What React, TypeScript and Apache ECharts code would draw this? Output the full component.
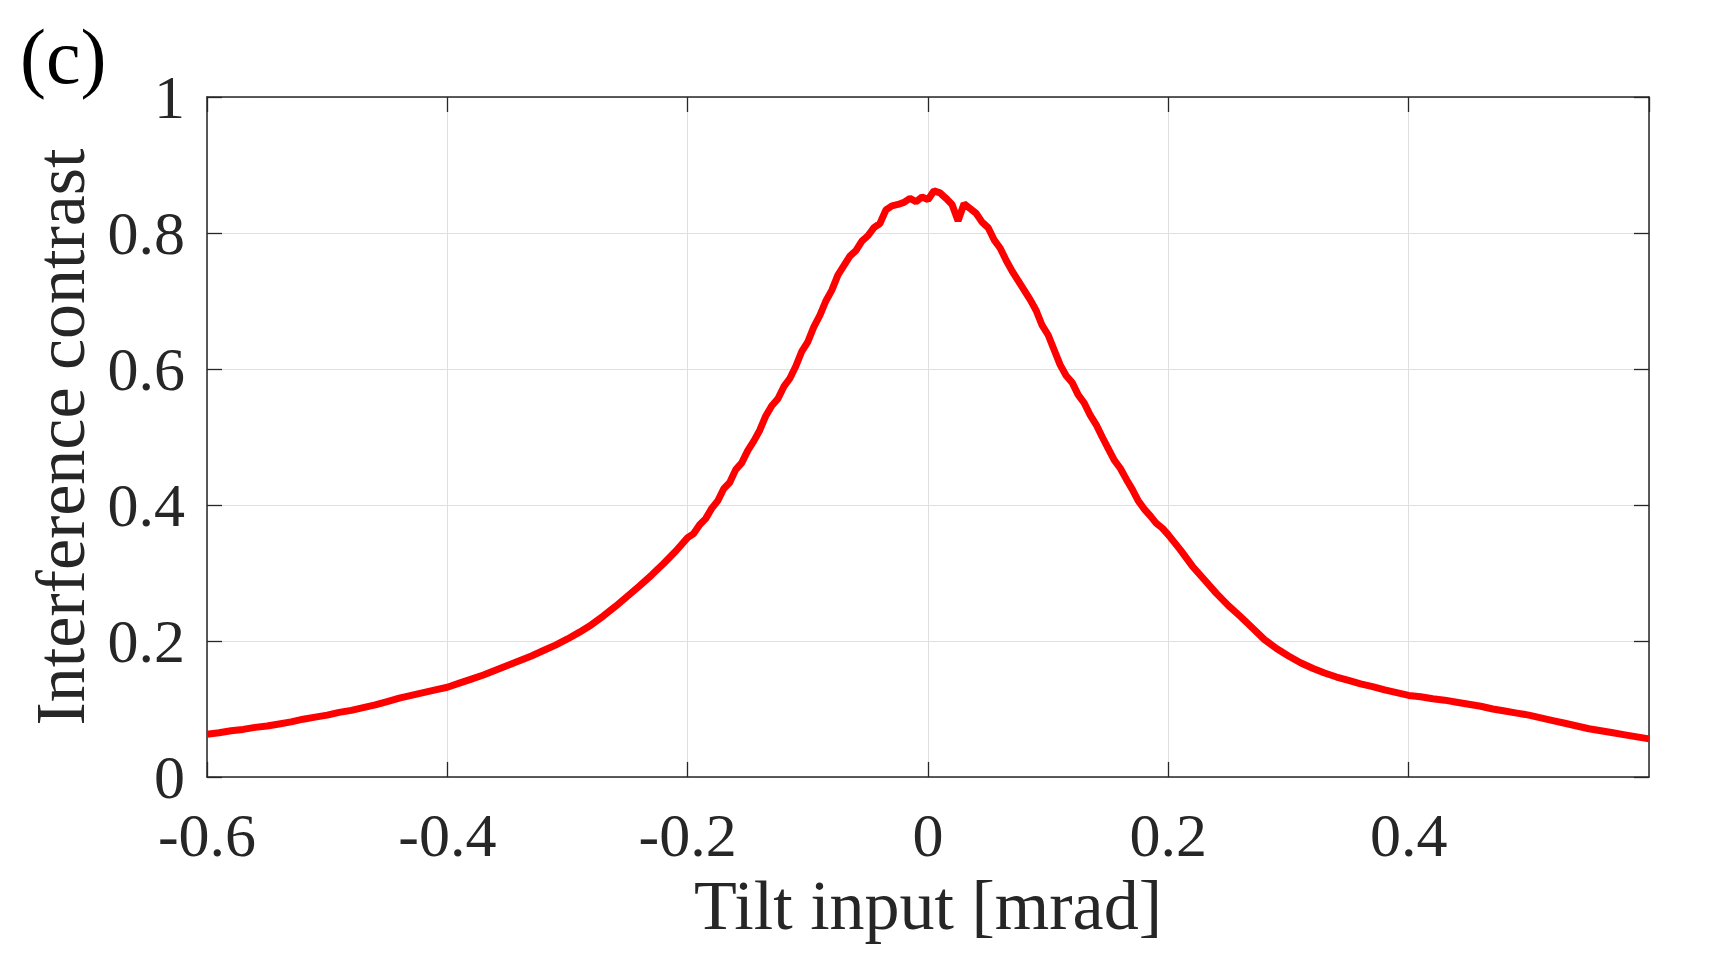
import React, { useEffect, useRef } from "react";
import * as echarts from "echarts";

const xTail1 = [-0.6, -0.59, -0.58, -0.57, -0.56, -0.55, -0.54, -0.53, -0.52, -0.51, -0.5, -0.49, -0.48, -0.47, -0.46, -0.45, -0.44, -0.43, -0.42, -0.41, -0.4, -0.39, -0.38, -0.37, -0.36, -0.35, -0.34, -0.33, -0.32, -0.31, -0.3, -0.29, -0.28, -0.27, -0.26, -0.25, -0.24, -0.23, -0.22, -0.21];
const yTail1 = [0.063, 0.065, 0.068, 0.07, 0.073, 0.075, 0.078, 0.081, 0.085, 0.088, 0.091, 0.095, 0.098, 0.102, 0.106, 0.111, 0.116, 0.12, 0.124, 0.128, 0.132, 0.138, 0.144, 0.15, 0.157, 0.164, 0.171, 0.178, 0.186, 0.194, 0.203, 0.213, 0.224, 0.237, 0.251, 0.266, 0.281, 0.297, 0.314, 0.332];

const xCenter = [-0.2, -0.195, -0.19, -0.185, -0.18, -0.175, -0.17, -0.165, -0.16, -0.155, -0.15, -0.145, -0.14, -0.135, -0.13, -0.125, -0.12, -0.115, -0.11, -0.105, -0.1, -0.095, -0.09, -0.085, -0.08, -0.075, -0.07, -0.065, -0.06, -0.055, -0.05, -0.045, -0.04, -0.035, -0.03, -0.025, -0.02, -0.015, -0.01, -0.005, 0, 0.005, 0.01, 0.015, 0.02, 0.025, 0.03, 0.035, 0.04, 0.045, 0.05, 0.055, 0.06, 0.065, 0.07, 0.075, 0.08, 0.085, 0.09, 0.095, 0.1, 0.105, 0.11, 0.115, 0.12, 0.125, 0.13, 0.135, 0.14, 0.145, 0.15, 0.155, 0.16, 0.165, 0.17, 0.175, 0.18, 0.185, 0.19, 0.195, 0.2];
const yCenter = [0.352, 0.358, 0.371, 0.38, 0.395, 0.406, 0.424, 0.433, 0.452, 0.462, 0.48, 0.494, 0.51, 0.531, 0.546, 0.556, 0.574, 0.586, 0.604, 0.626, 0.64, 0.662, 0.679, 0.7, 0.716, 0.738, 0.752, 0.766, 0.774, 0.788, 0.796, 0.808, 0.814, 0.834, 0.84, 0.842, 0.845, 0.851, 0.846, 0.853, 0.849, 0.862, 0.859, 0.851, 0.842, 0.818, 0.843, 0.836, 0.829, 0.816, 0.808, 0.79, 0.778, 0.76, 0.744, 0.73, 0.716, 0.702, 0.686, 0.664, 0.65, 0.628, 0.606, 0.59, 0.58, 0.562, 0.55, 0.532, 0.518, 0.5, 0.483, 0.466, 0.454, 0.438, 0.423, 0.406, 0.394, 0.384, 0.373, 0.366, 0.356];

const xTail2 = [0.21, 0.22, 0.23, 0.24, 0.25, 0.26, 0.27, 0.28, 0.29, 0.3, 0.31, 0.32, 0.33, 0.34, 0.35, 0.36, 0.37, 0.38, 0.39, 0.4, 0.41, 0.42, 0.43, 0.44, 0.45, 0.46, 0.47, 0.48, 0.49, 0.5, 0.51, 0.52, 0.53, 0.54, 0.55, 0.56, 0.57, 0.58, 0.59, 0.6];
const yTail2 = [0.334, 0.31, 0.29, 0.27, 0.252, 0.236, 0.219, 0.202, 0.189, 0.178, 0.168, 0.16, 0.153, 0.147, 0.142, 0.137, 0.133, 0.128, 0.124, 0.12, 0.118, 0.115, 0.113, 0.11, 0.107, 0.104, 0.1, 0.097, 0.094, 0.091, 0.087, 0.083, 0.079, 0.075, 0.071, 0.068, 0.065, 0.062, 0.059, 0.056];

const xTicks = [-0.6, -0.4, -0.2, 0, 0.2, 0.4];
const yTicks = [0, 0.2, 0.4, 0.6, 0.8, 1];

const FONT = "Liberation Serif";
const TXT = "#262626";

export default function App() {
  const ref = useRef<HTMLDivElement>(null);
  useEffect(() => {
    document.body.style.margin = "0";
    if (!ref.current) return;
    const chart = echarts.init(ref.current, null, { renderer: "svg" });
    const xs = [...xTail1, ...xCenter, ...xTail2];
    const ys = [...yTail1, ...yCenter, ...yTail2];
    const data = xs.map((x, i) => [x, ys[i]]);
    const tickCommon = { show: true, inside: true, length: 15, lineStyle: { color: TXT, width: 1.3 } };
    const lineCommon = { show: true, onZero: false, lineStyle: { color: TXT, width: 1.5 } };
    chart.setOption({
      animation: false,
      backgroundColor: "#ffffff",
      grid: { left: 207, top: 97, right: 63, bottom: 179, containLabel: false },
      graphic: [
        {
          type: "text",
          left: 20,
          top: 17,
          style: { text: "(c)", font: `78px "${FONT}"`, fill: "#000000" },
        },
      ],
      xAxis: [
        {
          type: "value",
          min: -0.6,
          max: 0.6,
          interval: 0.2,
          position: "bottom",
          axisLine: lineCommon,
          axisTick: tickCommon,
          splitLine: { show: true, lineStyle: { color: "#dfdfdf", width: 1 } },
          axisLabel: {
            show: true,
            showMaxLabel: false,
            margin: 33,
            lineHeight: 50,
            color: TXT,
            fontFamily: FONT,
            fontSize: 62,
            formatter: (v: number) => {
              const r = Math.round(v * 10) / 10;
              return xTicks.some((t) => Math.abs(t - r) < 1e-9) ? String(r) : "";
            },
          },
          name: "Tilt input [mrad]",
          nameLocation: "middle",
          nameGap: 91,
          nameTextStyle: { color: TXT, fontFamily: FONT, fontSize: 70 },
        },
        {
          type: "value",
          min: -0.6,
          max: 0.6,
          interval: 0.2,
          position: "top",
          axisLine: lineCommon,
          axisTick: tickCommon,
          splitLine: { show: false },
          axisLabel: { show: false },
        },
      ],
      yAxis: [
        {
          type: "value",
          min: 0,
          max: 1,
          interval: 0.2,
          position: "left",
          axisLine: lineCommon,
          axisTick: tickCommon,
          splitLine: { show: true, lineStyle: { color: "#dfdfdf", width: 1 } },
          axisLabel: {
            show: true,
            margin: 22,
            lineHeight: 50,
            color: TXT,
            fontFamily: FONT,
            fontSize: 62,
            formatter: (v: number) => {
              const r = Math.round(v * 10) / 10;
              return yTicks.some((t) => Math.abs(t - r) < 1e-9) ? String(r) : "";
            },
          },
          name: "Interference contrast",
          nameLocation: "middle",
          nameGap: 112,
          nameTextStyle: { color: TXT, fontFamily: FONT, fontSize: 70 },
        },
        {
          type: "value",
          min: 0,
          max: 1,
          interval: 0.2,
          position: "right",
          axisLine: lineCommon,
          axisTick: tickCommon,
          splitLine: { show: false },
          axisLabel: { show: false },
        },
      ],
      series: [
        {
          type: "line",
          xAxisIndex: 0,
          yAxisIndex: 0,
          data,
          showSymbol: false,
          symbol: "none",
          lineStyle: { color: "#ff0000", width: 7 },
          z: 5,
        },
      ],
    });
    return () => chart.dispose();
  }, []);
  return <div ref={ref} style={{ width: 1712, height: 956 }} />;
}
